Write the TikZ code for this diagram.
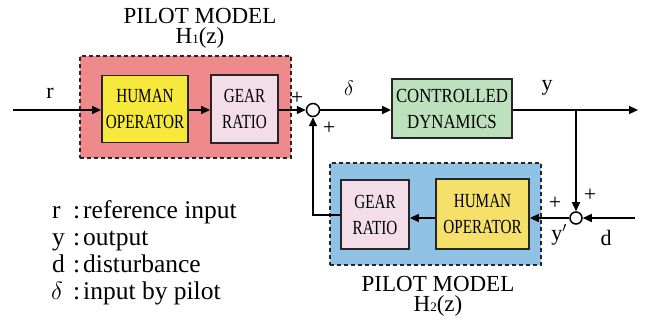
\documentclass[tikz,border=0pt]{standalone}
\usepackage{fontspec}
\setmainfont{Liberation Serif}
\usetikzlibrary{arrows.meta}

\definecolor{pilotred}{HTML}{EF8A8C}
\definecolor{pilotblue}{HTML}{90C2E6}
\definecolor{hoyellow}{HTML}{F7E83C}
\definecolor{hoyellowb}{HTML}{F5E06A}
\definecolor{gearpink}{HTML}{F2DDE9}
\definecolor{plantgreen}{HTML}{BDE1BC}

% condensed serif lettering used inside the blocks
\newcommand{\cnd}[1]{\scalebox{0.76}[1]{#1}}
\newcommand{\cndw}[1]{\scalebox{0.84}[1]{#1}}
\newcommand{\smallsub}[1]{{\fontsize{13}{13}\selectfont #1}}

\tikzset{
  blk/.style={draw=black!85, line width=1.8pt, inner sep=0pt, align=center,
    font=\fontsize{20}{26}\selectfont},
  pilotbox/.style={draw=black!85, line width=1.6pt, dash pattern=on 4pt off 3pt,
    inner sep=0pt},
  sumnode/.style={circle, draw=black, line width=1.5pt, fill=white,
    minimum size=13pt, inner sep=0pt},
  sig/.style={line width=1.5pt, -{Triangle[length=9pt,width=8pt]}},
  lbl/.style={font=\fontsize{22}{20}\selectfont, inner sep=0pt},
  ttl/.style={font=\fontsize{23}{20}\selectfont, inner sep=0pt, align=center},
  sgn/.style={font=\fontsize{22}{22}\selectfont, inner sep=0pt},
  legend/.style={font=\fontsize{25.5}{25}\selectfont, inner sep=0pt, anchor=base west},
}

\begin{document}
\begin{tikzpicture}[x=1pt, y=-1pt]
  \useasboundingbox (0,0) rectangle (648,320);

  % upper pilot model H1(z)
  \node[pilotbox, fill=pilotred, minimum width=211pt, minimum height=102pt] (pm1) at (185.5,107) {};
  \node[ttl] (pm1t) at (200,28) {PILOT MODEL\\H\smallsub{1}(z)};
  \node[blk, fill=hoyellow, minimum width=86pt, minimum height=67pt] (ho1) at (145,109) {\cnd{HUMAN}\\\cnd{OPERATOR}};
  \node[blk, fill=gearpink, minimum width=67pt, minimum height=68pt] (gr1) at (244.5,109) {\cnd{GEAR}\\\cnd{RATIO}};

  % summing junctions
  \node[sumnode] (s1) at (313,110) {};
  \node[sumnode, minimum size=12pt] (s2) at (576,218) {};

  % controlled dynamics
  \node[blk, fill=plantgreen, minimum width=120pt, minimum height=59pt] (cd) at (452,108.5) {\cndw{CONTROLLED}\\\cndw{DYNAMICS}};

  % lower pilot model H2(z)
  \node[pilotbox, fill=pilotblue, minimum width=211pt, minimum height=102pt] (pm2) at (435.5,214) {};
  \node[ttl] (pm2t) at (438,296) {PILOT MODEL\\H\smallsub{2}(z)};
  \node[blk, fill=gearpink, minimum width=68pt, minimum height=69pt] (gr2) at (375,214.5) {\cnd{GEAR}\\\cnd{RATIO}};
  \node[blk, fill=hoyellowb, minimum width=93pt, minimum height=70pt] (ho2) at (482.5,214) {\cnd{HUMAN}\\\cnd{OPERATOR}};

  % free ends of the signal lines
  \coordinate (rin) at (13,110);
  \coordinate (yout) at (638,110);
  \coordinate (br) at (576,110);
  \coordinate (din) at (635,218);

  % forward path
  \draw[sig] (rin) -- (ho1.west |- rin);
  \draw[sig] (ho1.east |- rin) -- (gr1.west |- rin);
  \draw[sig] (gr1.east |- rin) -- (s1.west);
  \draw[sig] (s1.east) -- (cd.west |- s1);
  \draw[sig] (cd.east |- rin) -- (yout);

  % feedback path
  \draw[sig] (br) -- (s2.north);
  \draw[sig] (din) -- (s2.east);
  \draw[sig] (s2.west) -- (ho2.east |- s2);
  \draw[sig] (ho2.west |- s2) -- (gr2.east |- s2);
  \draw[sig] (gr2.west |- 0,215) -| (s1.south);

  % signal labels
  \node[lbl] (lr) at (50,93) {r};
  \node[lbl] (ldelta) at (349,88) {$\delta$};
  \node[lbl] (ly) at (547,88) {y};
  \node[lbl] (lyp) at (559,235) {y$'$};
  \node[lbl] (ld) at (606,238) {d};
  \node[sgn] (p1) at (297,98) {+};
  \node[sgn] (p2) at (329,128) {+};
  \node[sgn] (p3) at (555,203) {+};
  \node[sgn] (p4) at (590,195) {+};

  % legend
  \node[legend] (k1) at (52,219) {r};
  \node[legend] (k2) at (52,246) {y};
  \node[legend] (k3) at (52,273) {d};
  \node[legend] (k4) at (51,300) {$\delta$};
  \foreach \yy/\nm in {219/c1,246/c2,273/c3,300/c4}
    \node[legend] (\nm) at (73,\yy) {:};
  \node[legend] (t1) at (83,219) {reference input};
  \node[legend] (t2) at (83,246) {output};
  \node[legend] (t3) at (83,273) {disturbance};
  \node[legend] (t4) at (83,300) {input by pilot};
\end{tikzpicture}
\end{document}
